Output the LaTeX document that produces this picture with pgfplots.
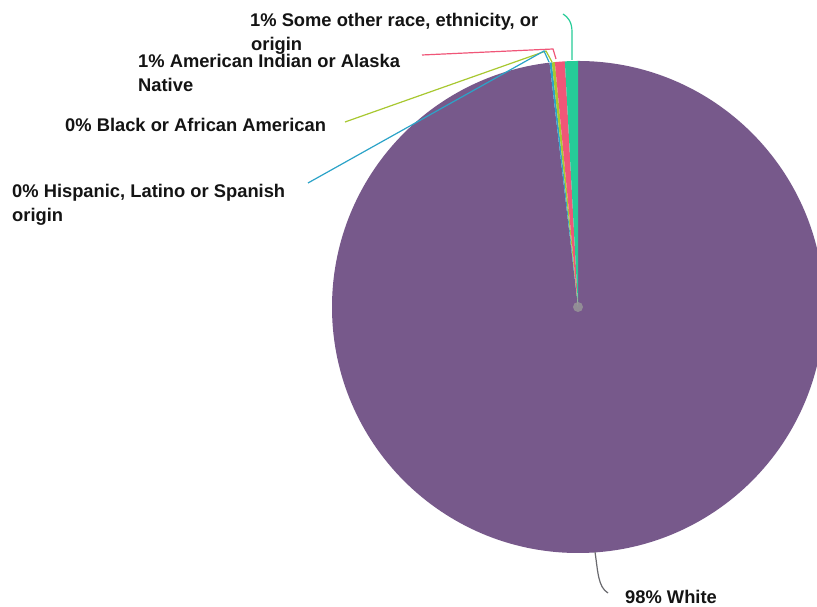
\documentclass[border=0pt]{standalone}
\usepackage{pgfplots}
\usepackage{pgfplotstable}
\pgfplotsset{compat=1.18}
\usepackage{fontspec}
\setmainfont{Liberation Sans}
\definecolor{cWhite}{RGB}{119,89,139}
\definecolor{cHisp}{RGB}{43,163,200}
\definecolor{cBlack}{RGB}{168,200,48}
\definecolor{cAmInd}{RGB}{240,86,120}
\definecolor{cOther}{RGB}{38,204,152}
\definecolor{cLead}{RGB}{105,105,110}
\definecolor{cText}{RGB}{20,20,20}
\pgfplotstableread{
label value color
White 98.15 cWhite
Hispanic 0.15 cHisp
Black 0.20 cBlack
AmInd 0.65 cAmInd
Other 0.85 cOther
}\piedata
\tikzset{lbl/.style={font=\fontsize{18.4}{22}\selectfont\bfseries, text=cText, inner sep=0pt, anchor=base west}}
\begin{document}
\begin{tikzpicture}[x=1bp,y=1bp]
\path[use as bounding box, clip] (0,0) rectangle (817,607);
\fill[white] (0,0) rectangle (817,607);
\begin{axis}[hide axis, x=1bp, y=1bp, xmin=0, xmax=817, ymin=0, ymax=607,
  at={(0,0)}, anchor=south west, clip=false]
\def\cum{0}
\pgfplotsforeachungrouped \i in {0,...,4}{%
  \pgfplotstablegetelem{\i}{value}\of\piedata \let\v\pgfplotsretval
  \pgfplotstablegetelem{\i}{color}\of\piedata \let\c\pgfplotsretval
  \pgfmathsetmacro\sa{90-3.6*\cum}%
  \pgfmathsetmacro\ea{90-3.6*(\cum+\v)}%
  \pgfmathsetmacro\cum{\cum+\v}%
  \edef\temp{\noexpand\fill[\c] (axis cs:578,300) -- ++(\sa:246bp) arc[start angle=\sa, end angle=\ea, radius=246bp] -- cycle;}%
  \temp
}
\fill[gray!80, opacity=0.8] (axis cs:578,300) circle[radius=5bp];
% leader lines
\draw[cOther, line width=1.2bp] (axis cs:572,547) -- (axis cs:572,575) .. controls (axis cs:572,585) and (axis cs:568,590) .. (axis cs:563,593);
\draw[cAmInd, line width=1.2bp] (axis cs:422,552) -- (axis cs:553,558) -- (axis cs:556,548);
\draw[cBlack, line width=1.2bp] (axis cs:345,485) -- (axis cs:546,556) -- (axis cs:552,545);
\draw[cHisp, line width=1.2bp] (axis cs:308,424) -- (axis cs:544,556) -- (axis cs:549,545);
\draw[cLead, line width=1.2bp] (axis cs:595,55) .. controls (axis cs:598,35) and (axis cs:598,20) .. (axis cs:608,14);
% labels
\node[lbl] at (axis cs:250,580) {1\% Some other race, ethnicity, or};
\node[lbl] at (axis cs:251,556) {origin};
\node[lbl] at (axis cs:138,539) {1\% American Indian or Alaska};
\node[lbl] at (axis cs:138,515) {Native};
\node[lbl] at (axis cs:65,475) {0\% Black or African American};
\node[lbl] at (axis cs:12,409) {0\% Hispanic, Latino or Spanish};
\node[lbl] at (axis cs:12,385) {origin};
\node[lbl] at (axis cs:625,3) {98\% White};
\end{axis}
\end{tikzpicture}
\end{document}
